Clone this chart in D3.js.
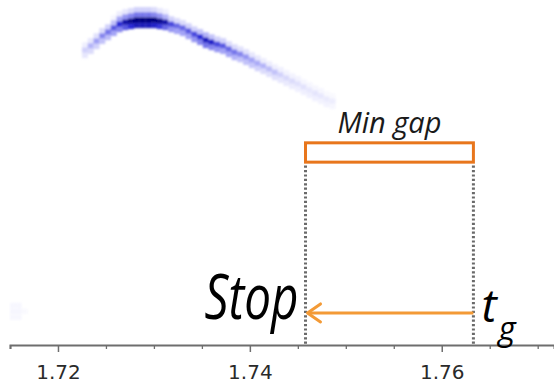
<!DOCTYPE html>
<html>
<head>
<meta charset="utf-8">
<script src="https://cdn.jsdelivr.net/npm/d3@7"></script>
<style>
  html, body { margin: 0; padding: 0; background: #ffffff; }
  svg { display: block; }
</style>
</head>
<body>
<div id="chart"></div>
<script>
// ---------------- data ----------------
// 2D histogram of the density band: one column per x-bin
const binX0 = 1.7228;          // centre of first x-bin
const binDX = 0.0006;          // x-bin width
const binDY = 0.15;            // y-bin height (arbitrary units)
const bandCenterY = [8.55, 8.67, 8.81, 8.96, 9.07, 9.19, 9.30, 9.36, 9.39, 9.42, 9.42,
                     9.42, 9.42, 9.39, 9.36, 9.30, 9.25, 9.19, 9.10, 9.01, 8.93, 8.84,
                     8.78, 8.72, 8.67, 8.58, 8.49, 8.43, 8.35, 8.26, 8.17, 8.09, 8.00,
                     7.91, 7.83, 7.74, 7.65, 7.57, 7.48, 7.39, 7.30, 7.22, 7.13, 7.07];
const bandTop2   = [0, 0, 0, 0, 0, 0.03, 0.06, 0.08, 0.12, 0.15, 0.15,
                    0.15, 0.12, 0.08, 0.05, 0, 0, 0, 0, 0, 0, 0,
                    0, 0, 0, 0, 0, 0, 0, 0, 0, 0, 0,
                    0, 0, 0, 0, 0, 0, 0, 0, 0, 0, 0];
const bandTop    = [0.05, 0.08, 0.10, 0.12, 0.15, 0.20, 0.30, 0.35, 0.40, 0.45, 0.45,
                    0.45, 0.40, 0.35, 0.25, 0.15, 0.12, 0.12, 0.15, 0.15, 0.20, 0.25,
                    0.20, 0.15, 0.15, 0.12, 0.12, 0.10, 0.10, 0.08, 0.08, 0.06, 0.06,
                    0.05, 0.05, 0.04, 0.04, 0.04, 0.03, 0.03, 0.03, 0.03, 0.02, 0.02];
const bandCenter = [0.15, 0.25, 0.32, 0.40, 0.45, 0.55, 0.70, 0.85, 0.95, 1.00, 1.00,
                    1.00, 1.00, 0.95, 0.85, 0.60, 0.50, 0.50, 0.55, 0.60, 0.70, 0.78,
                    0.75, 0.60, 0.55, 0.50, 0.45, 0.40, 0.35, 0.30, 0.28, 0.25, 0.22,
                    0.20, 0.15, 0.13, 0.12, 0.10, 0.10, 0.08, 0.09, 0.08, 0.07, 0.06];
const bandLower  = [0.08, 0.12, 0.15, 0.20, 0.22, 0.30, 0.40, 0.55, 0.70, 0.80, 0.80,
                    0.80, 0.75, 0.65, 0.50, 0.35, 0.30, 0.30, 0.30, 0.35, 0.40, 0.45,
                    0.40, 0.35, 0.30, 0.30, 0.25, 0.20, 0.20, 0.18, 0.15, 0.12, 0.10,
                    0.10, 0.08, 0.07, 0.06, 0.05, 0.05, 0.05, 0.05, 0.04, 0.04, 0.03];
// faint isolated cells near the bottom-left
const strayX = [1.7153, 1.7159, 1.7153, 1.7159, 1.7165, 1.7153, 1.7159];
const strayY = [1.15, 1.15, 0.98, 0.98, 0.98, 0.81, 0.81];
const strayV = [0.025, 0.025, 0.03, 0.03, 0.02, 0.025, 0.025];

// axis ticks
const majorTicks = [1.72, 1.74, 1.76];
const minorTicks = [1.715, 1.725, 1.73, 1.735, 1.745, 1.75, 1.755, 1.765, 1.77];

// annotation values
const stopX = 1.7458;
const tgX = 1.7633;
const gapBoxY = [5.30, 5.86];   // lower, upper (arbitrary units)
const guideTopY = 5.20;
const arrowY = 0.93;
const gapLabel = "Min gap";
const stopLabel = "Stop";

// ---------------- chart ----------------
const W = 554, H = 385;
const axisY = 345;
const svg = d3.select("#chart").append("svg").attr("width", W).attr("height", H);

const x = d3.scaleLinear().domain([1.715, 1.7717]).range([10, 554]);
const y = d3.scaleLinear().domain([0, 10]).range([axisY, 0]);

const color = d3.scaleLinear()
  .domain([0, 0.3, 0.7, 1])
  .range(["#ffffff", "#a4a4f6", "#2a2ad6", "#00007c"]);

const defs = svg.append("defs");
defs.append("filter").attr("id", "soft")
  .attr("x", "-10%").attr("y", "-10%").attr("width", "120%").attr("height", "120%")
  .append("feGaussianBlur").attr("stdDeviation", 1.1);

// build cells
const cells = [];
bandCenterY.forEach((cy, k) => {
  const cx = binX0 + k * binDX;
  cells.push({x: cx, y: cy + 2 * binDY, v: bandTop2[k]});
  cells.push({x: cx, y: cy + binDY, v: bandTop[k]});
  cells.push({x: cx, y: cy, v: bandCenter[k]});
  cells.push({x: cx, y: cy - binDY, v: bandLower[k]});
});
strayX.forEach((sx, i) => cells.push({x: sx, y: strayY[i], v: strayV[i]}));

svg.append("g").attr("filter", "url(#soft)")
  .selectAll("rect").data(cells.filter(d => d.v > 0)).join("rect")
  .attr("x", d => x(d.x - binDX / 2))
  .attr("y", d => y(d.y + binDY / 2))
  .attr("width", d => x(d.x + binDX / 2) - x(d.x - binDX / 2) + 0.3)
  .attr("height", d => y(d.y - binDY / 2) - y(d.y + binDY / 2) + 0.3)
  .attr("fill", d => color(d.v));

// axis
const axisMinor = d3.axisBottom(x).tickValues(minorTicks).tickSize(4).tickFormat("");
const axisMajor = d3.axisBottom(x).tickValues(majorTicks).tickSize(7).tickPadding(12)
  .tickFormat(d3.format(".2f"));

const gMinor = svg.append("g").attr("transform", `translate(0,${axisY})`).call(axisMinor);
gMinor.select(".domain").attr("stroke", "#6e6e6e").attr("stroke-width", 2);
gMinor.selectAll(".tick line").attr("stroke", "#6e6e6e").attr("stroke-width", 1.3);

const gMajor = svg.append("g").attr("transform", `translate(0,${axisY})`).call(axisMajor);
gMajor.select(".domain").remove();
gMajor.selectAll(".tick line").attr("stroke", "#6e6e6e").attr("stroke-width", 1.5);
gMajor.selectAll(".tick text")
  .attr("font-family", "'DejaVu Sans', Verdana, sans-serif")
  .attr("font-size", 20)
  .attr("fill", "#2a2a2a")
  .attr("y", 20).attr("dy", "0.72em");

// dotted guide lines
svg.selectAll("line.guide").data([stopX, tgX]).join("line")
  .attr("class", "guide")
  .attr("x1", d => x(d)).attr("x2", d => x(d))
  .attr("y1", y(guideTopY)).attr("y2", y(0))
  .attr("stroke", "#6a6a6a").attr("stroke-width", 3)
  .attr("stroke-dasharray", "2.2,2.2");

// min gap box
svg.append("rect")
  .attr("x", x(stopX)).attr("y", y(gapBoxY[1]))
  .attr("width", x(tgX) - x(stopX))
  .attr("height", y(gapBoxY[0]) - y(gapBoxY[1]))
  .attr("fill", "none").attr("stroke", "#e8761c").attr("stroke-width", 3);

svg.append("text")
  .attr("x", (x(stopX) + x(tgX)) / 2).attr("y", y(gapBoxY[1]) - 10)
  .attr("text-anchor", "middle")
  .attr("font-family", "'Open Sans', sans-serif").attr("font-style", "italic")
  .attr("font-size", 29).attr("fill", "#1a1a1a")
  .text(gapLabel);

// arrow from t_g to Stop
const ay = y(arrowY);
svg.append("line")
  .attr("x1", x(tgX)).attr("x2", x(stopX) + 2)
  .attr("y1", ay).attr("y2", ay)
  .attr("stroke", "#f39a36").attr("stroke-width", 3);
svg.append("path")
  .attr("d", `M${x(stopX) + 15},${ay - 9} L${x(stopX) + 2},${ay} L${x(stopX) + 15},${ay + 9}`)
  .attr("fill", "none").attr("stroke", "#f39a36").attr("stroke-width", 3)
  .attr("stroke-linecap", "round").attr("stroke-linejoin", "round");

// labels
svg.append("text")
  .attr("x", x(stopX) - 101).attr("y", 319)
  .attr("font-family", "'Open Sans', sans-serif").attr("font-style", "italic")
  .attr("font-size", 62).attr("fill", "#000")
  .attr("textLength", 94).attr("lengthAdjust", "spacingAndGlyphs")
  .text(stopLabel);

const tg = svg.append("text")
  .attr("x", x(tgX) + 8).attr("y", 322)
  .attr("font-family", "'Open Sans', sans-serif").attr("font-style", "italic")
  .attr("fill", "#000");
tg.append("tspan").attr("font-size", 46).text("t");
tg.append("tspan").attr("font-size", 33).attr("dy", 18).attr("dx", 2).text("g");
</script>
</body>
</html>
